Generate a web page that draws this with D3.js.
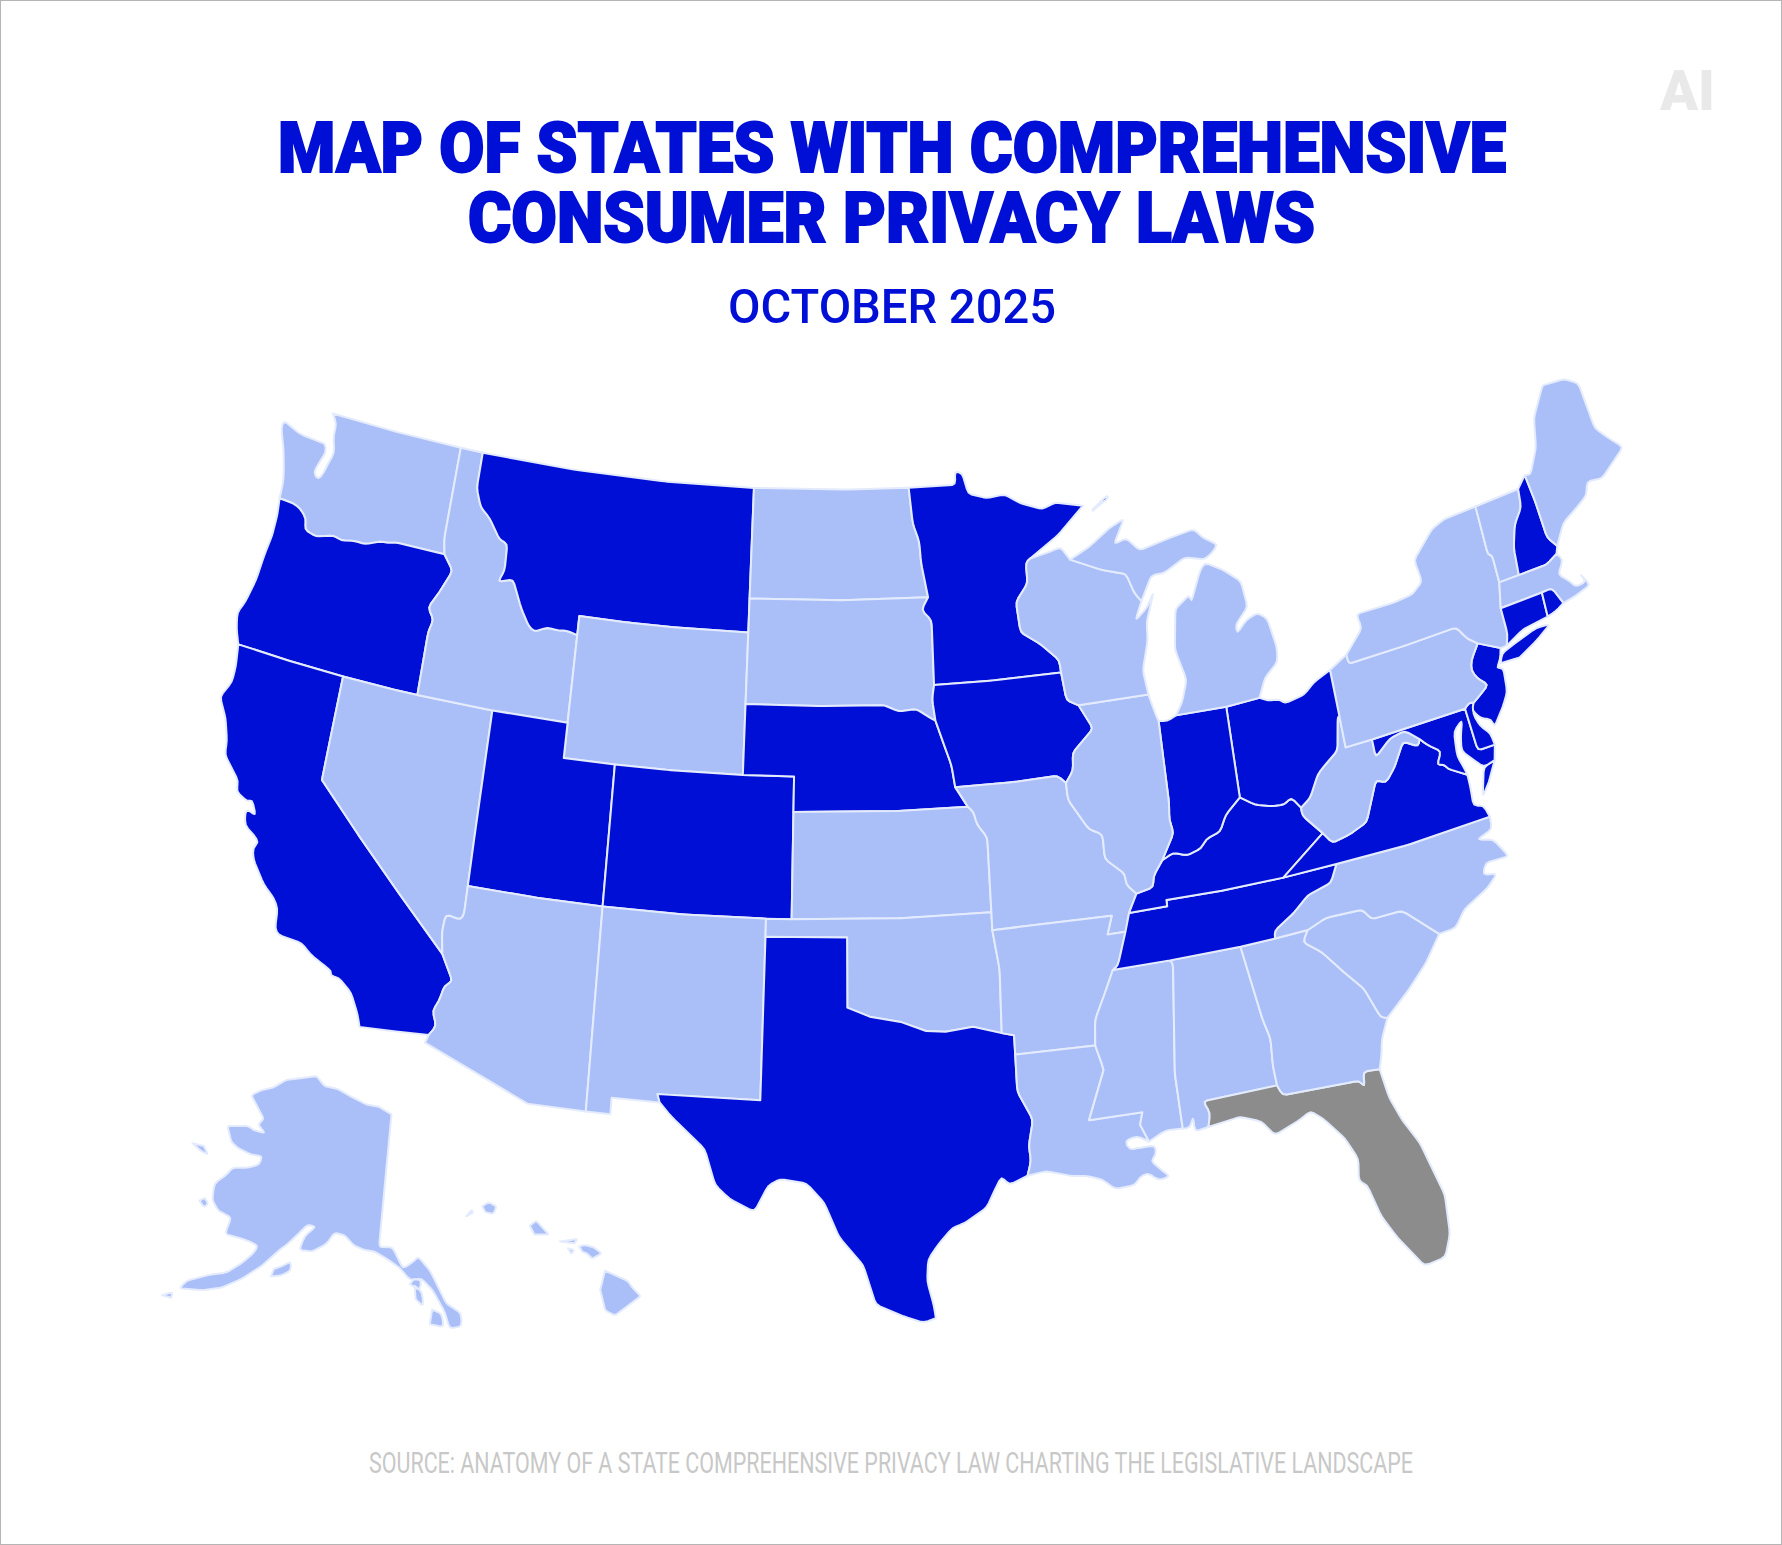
<!DOCTYPE html>
<html>
<head>
<meta charset="utf-8">
<style>
  html, body { margin: 0; padding: 0; background: #fff; }
  svg { display: block; }
</style>
<script src="https://cdn.jsdelivr.net/npm/d3@7"></script>
</head>
<body>
<script>
// border lines in lon/lat, shared between neighbouring states
const waCoast = [[-124.05,46.27],[-124.07,46.7],[-124.15,47.0],[-124.4,47.6],[-124.73,48.17],[-124.7,48.38],[-123.9,48.17],[-123.1,48.13],[-122.75,48.12],[-122.65,47.9],[-122.8,47.6],[-122.95,47.25],[-122.7,47.1],[-122.55,47.3],[-122.45,47.6],[-122.3,47.95],[-122.5,48.4],[-122.5,48.75],[-122.76,49]];
const waNorth = [[-122.76,49],[-120,49],[-117.03,49]];
const waId = [[-117.03,49],[-117.04,46.42],[-116.92,46]];
const waOr = [[-116.92,46],[-118.98,46],[-119.3,45.93],[-119.6,45.92],[-120.2,45.73],[-120.65,45.74],[-121.2,45.65],[-121.55,45.72],[-122.25,45.55],[-122.75,45.65],[-122.8,45.95],[-123.15,46.18],[-123.45,46.25],[-124.05,46.27]];
const orCoast = [[-124.05,46.27],[-123.97,45.8],[-123.97,45.2],[-124.08,44.6],[-124.15,43.9],[-124.35,43.2],[-124.55,42.84],[-124.42,42.4],[-124.21,42]];
const orCa = [[-124.21,42],[-122,42],[-120,42]];
const orNv = [[-120,42],[-118,42],[-117.03,42]];
const orId = [[-117.03,42],[-117.03,43.8],[-116.9,44.15],[-117.2,44.45],[-116.85,44.95],[-116.47,45.6],[-116.92,46]];
const caCoast = [[-124.21,42],[-124.1,41.4],[-124.1,40.95],[-124.4,40.44],[-124.0,39.9],[-123.75,39.3],[-123.7,38.9],[-123.0,38.3],[-122.98,38.0],[-122.52,37.82],[-122.35,37.9],[-122.1,37.5],[-122.42,37.6],[-122.5,37.5],[-122.4,37.15],[-122.0,36.95],[-121.8,36.8],[-121.95,36.6],[-121.85,36.3],[-121.3,35.7],[-120.85,35.4],[-120.65,35.15],[-120.6,34.6],[-120.45,34.45],[-119.6,34.4],[-119.2,34.15],[-118.8,34.0],[-118.4,33.85],[-118.4,33.72],[-118.1,33.72],[-117.6,33.4],[-117.25,32.85],[-117.12,32.53]];
const caMx = [[-117.12,32.53],[-116,32.62],[-114.72,32.72]];
const caAz = [[-114.72,32.72],[-114.5,33.0],[-114.7,33.4],[-114.52,33.7],[-114.4,34.15],[-114.14,34.3],[-114.63,35]];
const caNv = [[-114.63,35],[-116.5,36.42],[-118.3,37.75],[-120,39],[-120,40.5],[-120,42]];
const idNv = [[-117.03,42],[-114.04,42]];
const nvUt = [[-114.04,42],[-114.05,38.5],[-114.05,37]];
const nvAz = [[-114.05,37],[-114.05,36.2],[-114.15,36.03],[-114.7,36.1],[-114.75,35.6],[-114.63,35]];
const idUt = [[-114.04,42],[-111.05,42]];
const idWy = [[-111.05,42],[-111.05,44.47]];
const idMt = [[-111.05,44.47],[-111.5,44.55],[-111.85,44.52],[-112.3,44.55],[-112.8,44.38],[-113.05,44.5],[-113.45,44.95],[-113.95,45.7],[-114.55,45.56],[-114.35,45.9],[-114.4,46.65],[-114.75,46.72],[-115.3,47.25],[-115.75,47.5],[-116.05,48],[-116.05,49]];
const idNorth = [[-116.05,49],[-117.03,49]];
const mtNorth = [[-116.05,49],[-112,49],[-108,49],[-104.05,49]];
const mtNd = [[-104.05,49],[-104.05,47],[-104.05,45.94]];
const mtSd = [[-104.05,45.94],[-104.05,45]];
const mtWy = [[-104.05,45],[-107,45],[-109,45],[-111.05,45]];
const mtWyWest = [[-111.05,45],[-111.05,44.47]];
const wySd = [[-104.05,45],[-104.05,43]];
const wyNe = [[-104.05,43],[-104.05,41]];
const wyCo = [[-104.05,41],[-107,41],[-109.05,41]];
const wyUt = [[-109.05,41],[-111.05,41],[-111.05,42]];
const utCo = [[-109.05,41],[-109.05,37]];
const utAz = [[-114.05,37],[-111.5,37],[-109.05,37]];
const coNm = [[-109.05,37],[-106,37],[-103,37]];
const coOk = [[-103,37],[-102.05,37]];
const coKs = [[-102.05,37],[-102.05,40]];
const coNe = [[-102.05,40],[-102.05,41]];
const neCoNorth = [[-102.05,41],[-104.05,41]];
const azNm = [[-109.05,37],[-109.05,31.33]];
const azMx = [[-109.05,31.33],[-111.07,31.33],[-114.81,32.49],[-114.72,32.72]];
const nmOk = [[-103,37],[-103,36.5]];
const nmTx = [[-103,36.5],[-103.04,32],[-106.62,32],[-106.53,31.78]];
const nmMx = [[-106.53,31.78],[-108.2,31.78],[-108.2,31.33],[-109.05,31.33]];
const ndNorth = [[-104.05,49],[-100,49],[-97.23,49]];
const ndMn = [[-97.23,49],[-97.1,48],[-96.85,47.5],[-96.8,46.9],[-96.56,45.94]];
const ndSd = [[-96.56,45.94],[-100,45.94],[-104.05,45.94]];
const sdMn = [[-96.56,45.94],[-96.85,45.6],[-96.45,45.3],[-96.45,43.5]];
const sdIa = [[-96.45,43.5],[-96.55,43.1],[-96.45,42.49]];
const sdNe = [[-96.45,42.49],[-96.7,42.6],[-97.2,42.85],[-97.9,42.8],[-98.5,43],[-101,43],[-104.05,43]];
const neKs = [[-102.05,40],[-98,40],[-95.31,40]];
const neMo = [[-95.31,40],[-95.77,40.58]];
const neIa = [[-95.77,40.58],[-95.88,41.2],[-96.1,41.7],[-96.45,42.49]];
const ksOk = [[-102.05,37],[-98,37],[-94.62,37]];
const ksMo = [[-94.62,37],[-94.62,39.1],[-95,39.5],[-95.1,39.85],[-95.31,40]];
const okTx = [[-103,36.5],[-100,36.5],[-100,34.56],[-99.2,34.3],[-98.1,34.13],[-97.2,33.85],[-96.5,33.8],[-95.5,33.88],[-94.48,33.64]];
const okAr = [[-94.48,33.64],[-94.43,35.4],[-94.62,36.5]];
const okMo = [[-94.62,36.5],[-94.62,37]];
const txAr = [[-94.48,33.64],[-94.04,33.55],[-94.04,33.02]];
const txLa = [[-94.04,33.02],[-94.04,32],[-93.55,31.2],[-93.75,30.5],[-93.7,30.1],[-93.85,29.7]];
const txCoast = [[-93.85,29.7],[-94.5,29.5],[-94.75,29.75],[-95,29.4],[-95.3,28.95],[-96.1,28.55],[-96.5,28.45],[-97,28],[-97.35,27.6],[-97.4,27],[-97.2,26.3],[-97.15,25.96]];
const txMx = [[-97.15,25.96],[-97.55,25.85],[-98.2,26.05],[-99.1,26.4],[-99.5,27.5],[-100.3,28.3],[-100.8,29.25],[-101.4,29.77],[-102.3,29.88],[-102.7,29.7],[-103.15,28.98],[-104,29.3],[-104.5,29.65],[-104.9,30.6],[-106.1,31.42],[-106.53,31.78]];
const mnNorth = [[-97.23,49],[-95.15,49],[-95.15,49.38],[-94.82,49.3],[-94.6,48.72],[-93.8,48.55],[-93,48.6],[-92.3,48.3],[-91.4,48.07],[-90.8,48.2],[-89.6,48]];
const mnCoast = [[-89.6,48],[-90.8,47.3],[-92.1,46.75]];
const mnWi = [[-92.1,46.75],[-92.3,46.65],[-92.3,46.07],[-92.85,45.6],[-92.75,44.75],[-91.95,44.35],[-91.25,43.85],[-91.22,43.5]];
const mnIa = [[-91.22,43.5],[-94,43.5],[-96.45,43.5]];
const iaWi = [[-91.22,43.5],[-91.1,42.7],[-90.64,42.51]];
const iaIl = [[-90.64,42.51],[-90.15,41.8],[-91.05,41.2],[-91.1,40.7],[-91.42,40.38]];
const iaMo = [[-91.42,40.38],[-91.73,40.61],[-93.5,40.58],[-95.77,40.58]];
const moAr = [[-94.62,36.5],[-90.15,36.5],[-90.37,36],[-89.7,36]];
const moTn = [[-89.7,36],[-89.5,36.5]];
const moKy = [[-89.5,36.5],[-89.15,37]];
const moIl = [[-89.15,37],[-89.5,37.3],[-89.5,37.6],[-90.2,38.1],[-90.2,38.8],[-90.7,39],[-91.4,39.9],[-91.42,40.38]];
const arTn = [[-89.7,36],[-90.1,35.1],[-90.3,35]];
const arMs = [[-90.3,35],[-90.6,34.5],[-91.1,33.7],[-91.17,33]];
const arLa = [[-91.17,33],[-94.04,33.02]];
const laMs = [[-91.17,33],[-91,32.5],[-90.95,32.3],[-91.6,31],[-89.73,31],[-89.85,30.67],[-89.6,30.18]];
const laCoast = [[-89.6,30.18],[-90,30.38],[-90.42,30.3],[-90.3,30.05],[-89.9,30.05],[-89.4,30.05],[-89.4,29.8],[-89.6,29.65],[-89.2,29.3],[-89,29.15],[-89.4,29.1],[-89.75,29.35],[-90.05,29.25],[-90.2,29.08],[-90.9,29.05],[-91.3,29.35],[-91.8,29.5],[-92.3,29.55],[-93.2,29.77],[-93.85,29.7]];
const msTn = [[-90.3,35],[-88.2,35]];
const msAl = [[-88.2,35],[-88.1,34.9],[-88.47,31.9],[-88.4,30.37]];
const msCoast = [[-88.4,30.37],[-89,30.4],[-89.6,30.18]];
const alTn = [[-88.2,35],[-85.6,34.98]];
const alGa = [[-85.6,34.98],[-85.18,32.87],[-85,32.3],[-85.05,31.55],[-85,31]];
const alFl = [[-85,31],[-87.6,31],[-87.4,30.65],[-87.52,30.28]];
const alCoast = [[-87.52,30.28],[-88,30.23],[-88,30.65],[-88.15,30.35],[-88.4,30.37]];
const gaFl = [[-85,31],[-84.86,30.7],[-82.2,30.57],[-82.05,30.36],[-82.02,30.78],[-81.45,30.72]];
const flCoast = [[-81.45,30.72],[-81.3,29.9],[-81,29.2],[-80.55,28.45],[-80.05,26.9],[-80.12,25.8],[-80.4,25.2],[-81.1,25.13],[-81.8,26.1],[-82.2,26.8],[-82.5,27.75],[-82.75,27.9],[-82.65,28.5],[-83,29.15],[-83.6,29.8],[-84,30.1],[-84.35,29.95],[-85.3,29.68],[-85.7,30.13],[-86.4,30.38],[-87.52,30.28]];
const gaTn = [[-85.6,34.98],[-84.32,34.99]];
const gaNc = [[-84.32,34.99],[-83.11,35]];
const gaSc = [[-83.11,35],[-83.35,34.7],[-82.75,34.3],[-82,33.5],[-81.5,33],[-81.1,32.1],[-80.88,32.03]];
const gaCoast = [[-80.88,32.03],[-81.2,31.5],[-81.3,31.1],[-81.45,30.72]];
const scNc = [[-83.11,35],[-82.4,35.2],[-81.05,35.15],[-80.8,34.82],[-79.67,34.8],[-78.55,33.86]];
const scCoast = [[-78.55,33.86],[-79.2,33.2],[-80,32.6],[-80.88,32.03]];
const ncTn = [[-84.32,34.99],[-84.3,35.2],[-83.5,35.57],[-82.9,35.95],[-82,36.12],[-81.68,36.59]];
const ncVa = [[-81.68,36.59],[-79,36.54],[-75.87,36.55]];
const ncCoast = [[-75.87,36.55],[-75.9,36.2],[-76.5,36.05],[-75.95,35.9],[-75.55,35.3],[-76.4,35.35],[-76.6,35.05],[-76.1,34.95],[-76.55,34.65],[-77.5,34.3],[-77.95,33.87],[-78.55,33.86]];
const tnVa = [[-81.68,36.59],[-83.68,36.6]];
const tnKy = [[-83.68,36.6],[-86,36.63],[-88.07,36.68],[-88.07,36.5],[-89.5,36.5]];
const vaCoast = [[-75.87,36.55],[-76,36.92],[-76.35,37],[-76.3,37.55],[-76.3,37.9]];
const vaMd = [[-76.3,37.9],[-76.95,38.25],[-77.05,38.4],[-77.3,38.45],[-77.04,38.79],[-77.5,39.1],[-77.72,39.32]];
const vaWv = [[-77.72,39.32],[-77.83,39.13],[-78.35,39.4],[-78.87,38.77],[-79.3,38.42],[-79.65,38.58],[-80.3,37.5],[-81,37.3],[-81.68,37.2],[-81.97,37.54]];
const vaKy = [[-81.97,37.54],[-83.68,36.6]];
const wvKy = [[-81.97,37.54],[-82.6,38.17],[-82.6,38.4]];
const wvOh = [[-82.6,38.4],[-82.2,38.6],[-81.75,39.2],[-81.5,39.35],[-80.85,39.7],[-80.6,40.6],[-80.52,40.64]];
const wvPa = [[-80.52,40.64],[-80.52,39.72],[-79.48,39.72]];
const wvMd = [[-79.48,39.72],[-79.48,39.2],[-78.8,39.6],[-78.2,39.68],[-77.72,39.32]];
const paMd = [[-79.48,39.72],[-75.79,39.72]];
const mdDe = [[-75.79,39.72],[-75.71,38.46],[-75.05,38.45]];
const mdCoast = [[-75.05,38.45],[-75.2,38.03]];
const mdBay = [[-76.3,37.9],[-76.35,38.1],[-76.5,38.5],[-76.45,38.9],[-76.4,39.2],[-76,39.45],[-76.2,39],[-76.3,38.6],[-75.9,38.2],[-75.65,37.95],[-75.2,38.03]];
const paDe = [[-75.79,39.72],[-75.6,39.84],[-75.42,39.8]];
const deCoast = [[-75.42,39.8],[-75.55,39.5],[-75.4,39.1],[-75.1,38.8],[-75.05,38.45]];
const paNj = [[-75.42,39.8],[-75.1,39.95],[-74.72,40.15],[-75.05,40.42],[-75.2,40.7],[-75.1,40.97],[-74.7,41.36]];
const njNy = [[-74.7,41.36],[-73.9,41]];
const njCoast = [[-73.9,41],[-74.03,40.7],[-74.25,40.5],[-74,40.45],[-74.1,39.75],[-74.4,39.4],[-74.9,38.93],[-74.95,39.18],[-75.3,39.3],[-75.55,39.6],[-75.42,39.8]];
const paNy = [[-74.7,41.36],[-75.05,41.6],[-75.35,42],[-77.5,42],[-79.76,42],[-79.76,42.27]];
const paErie = [[-79.76,42.27],[-80.52,41.98]];
const paOh = [[-80.52,41.98],[-80.52,40.64]];
const ohErie = [[-80.52,41.98],[-81.25,41.76],[-81.7,41.5],[-82.5,41.4],[-82.7,41.55],[-83.15,41.6],[-83.45,41.73]];
const ohMi = [[-83.45,41.73],[-84.8,41.7]];
const ohIn = [[-84.8,41.7],[-84.82,39.1]];
const ohKy = [[-84.82,39.1],[-84.3,38.8],[-83.7,38.65],[-83.2,38.6],[-82.9,38.75],[-82.6,38.4]];
const miIn = [[-84.8,41.7],[-86.82,41.76]];
const inLake = [[-86.82,41.76],[-87.2,41.65],[-87.53,41.7]];
const inIl = [[-87.53,41.7],[-87.53,39.35],[-87.6,38.9],[-87.5,38.5],[-88.05,37.8]];
const inKy = [[-88.05,37.8],[-87.6,37.95],[-87.1,37.8],[-86.55,37.92],[-86.3,38.15],[-85.75,38.27],[-85.45,38.7],[-84.82,39.1]];
const ilKy = [[-89.15,37],[-88.5,37.1],[-88.45,37.4],[-88.05,37.8]];
const ilWi = [[-90.64,42.51],[-87.8,42.49]];
const ilLake = [[-87.8,42.49],[-87.6,41.85],[-87.53,41.7]];
const wiSup = [[-92.1,46.75],[-91.2,46.87],[-90.75,46.95],[-90.4,46.57]];
const wiMi = [[-90.4,46.57],[-89.1,46.15],[-88.1,45.92],[-87.85,45.35],[-87.6,45.1]];
const wiLake = [[-87.6,45.1],[-87.95,44.6],[-87.4,44.9],[-87.05,45.28],[-87.5,44.5],[-87.55,44],[-87.9,43.2],[-87.8,42.49]];
const miLower = [[-86.82,41.76],[-86.5,42.1],[-86.2,42.7],[-86.5,43.6],[-86.25,44.7],[-85.6,45],[-85.55,44.8],[-85,45.6],[-84.75,45.78],[-84.1,45.5],[-83.4,45.05],[-83.3,44.3],[-83.9,43.9],[-83.9,43.65],[-83.45,43.95],[-82.95,44.07],[-82.6,43.85],[-82.42,43],[-82.5,42.6],[-83.1,42.25],[-83.45,41.73]];
const miUpper = [[-87.6,45.1],[-87.05,45.75],[-86.5,45.75],[-85.55,46.05],[-84.75,45.88],[-84.4,46],[-84.1,46.2],[-84.65,46.47],[-85,46.77],[-86.1,46.67],[-87.4,46.5],[-87.9,46.9],[-88.45,46.8],[-87.9,47.45],[-88.6,47.25],[-89.5,46.85],[-90.4,46.57]];
const nyShort = [[-73.9,41],[-73.65,41]];
const nyCt = [[-73.65,41],[-73.5,41.3],[-73.49,42.05]];
const nyMa = [[-73.49,42.05],[-73.27,42.75]];
const nyVt = [[-73.27,42.75],[-73.25,43.55],[-73.4,43.6],[-73.35,45.01]];
const nyNorth = [[-73.35,45.01],[-74.7,45],[-75.3,44.85],[-76.3,44.2],[-76.2,43.55],[-76.7,43.3],[-77.5,43.25],[-79.05,43.27],[-78.95,42.85],[-79.76,42.27]];
const vtNorth = [[-73.35,45.01],[-71.5,45.01]];
const vtNh = [[-71.5,45.01],[-71.6,44.5],[-72.05,44.1],[-72.35,43.5],[-72.46,42.73]];
const vtMa = [[-72.46,42.73],[-73.27,42.75]];
const nhNorth = [[-71.08,45.3],[-71.5,45.01]];
const nhMe = [[-71.08,45.3],[-71,44.5],[-70.98,43.4],[-70.7,43.07]];
const nhCoast = [[-70.7,43.07],[-70.82,42.87]];
const nhMa = [[-70.82,42.87],[-71.3,42.7],[-72.46,42.73]];
const meCoast = [[-70.7,43.07],[-70.2,43.6],[-69.5,43.85],[-69,44.05],[-68.8,44.4],[-68.2,44.3],[-67,44.85],[-67.45,45.3],[-67.8,45.7],[-67.8,47.07],[-68.3,47.36],[-69.05,47.43],[-69.22,47.46],[-70,46.7],[-70.3,45.9],[-70.85,45.25],[-71.08,45.3]];
const maCoast = [[-70.82,42.87],[-70.65,42.65],[-71,42.3],[-70.65,42],[-70.5,41.78],[-70.05,41.8],[-70.2,42.08],[-69.95,41.67],[-70.6,41.55],[-71.13,41.5]];
const maCt = [[-73.49,42.05],[-71.8,42.02]];
const maRi = [[-71.8,42.02],[-71.38,42.02],[-71.13,41.5]];
const ctRi = [[-71.8,42.02],[-71.85,41.32]];
const ctCoast = [[-71.85,41.32],[-72.9,41.25],[-73.65,41]];
const riCoast = [[-71.13,41.5],[-71.5,41.37],[-71.85,41.32]];

// islands and separate pieces
const longIsland = [[-74.05,40.6],[-73.9,40.85],[-73.2,41],[-72.4,41.15],[-71.85,41.1],[-72.5,40.82],[-73.3,40.55]];
const isleRoyale = [[-89.2,47.85],[-88.5,48.17],[-88.45,48.1],[-89.2,47.82]];
const vaShore = [[-75.2,38.03],[-75.65,37.95],[-75.95,37.15],[-75.6,37.5]];
const akMain = [[-141,69.65],[-141,60.3],[-139.1,60.35],[-137.5,58.95],[-136,59.5],[-135.5,59.8],[-133.8,58.8],[-131.8,56.6],[-130,55.9],[-130,55],[-131.5,54.9],[-132,56],[-133.5,57.5],[-135,58.3],[-136.5,58.2],[-138,59],[-139.8,59.55],[-141.5,59.95],[-143,60],[-144.5,60.2],[-146,60.8],[-147.5,60.85],[-148.3,60],[-150,59.3],[-151.8,59.2],[-151.5,60.2],[-150.3,61],[-151.5,61],[-152.5,60.2],[-153.5,59.4],[-154.3,58.9],[-156,57.5],[-158,56.2],[-160,55.2],[-162,54.6],[-164.7,54.1],[-164.2,54.8],[-162,55.7],[-160,56.3],[-158.5,57.3],[-157.5,58.2],[-157.3,58.7],[-158.5,58.8],[-160,58.8],[-162,58.7],[-162,59.9],[-164,60],[-165.4,60.5],[-166.1,61.6],[-165,62.5],[-164.6,63.1],[-162.5,63.5],[-161,64],[-161,64.6],[-162.8,64.45],[-165,64.5],[-166.4,64.7],[-168.1,65.6],[-165,66.2],[-163.8,66.1],[-162,66.2],[-163.6,66.6],[-163,67.1],[-164.5,67.6],[-166.7,68.3],[-165.5,68.9],[-163.5,69.5],[-162,70.3],[-159.5,70.8],[-156.6,71.35],[-154.5,70.8],[-152,70.85],[-149,70.5],[-146,70.15],[-143.5,70.1]];
const akKodiak = [[-154.5,56.95],[-153.3,57.2],[-152.2,57.7],[-152.5,58.3],[-153.3,57.9],[-154.4,57.5]];
const akStLawrence = [[-171.7,63.4],[-170,63.2],[-168.8,63.2],[-170,63.6]];
const akNunivak = [[-167,60.1],[-166,59.8],[-165.7,60.2],[-166.5,60.4]];
const akUnalaska = [[-166.2,53.2],[-165.2,53.7],[-165.1,53.3]];
const akPrinceWales = [[-133.9,55.2],[-132.2,55],[-132.4,55.9],[-133.6,56.2]];
const akBaranof = [[-135.7,56.9],[-134.7,56.4],[-134.9,57.4],[-135.9,57.8]];
const akChichagof = [[-136.5,57.9],[-135.2,57.5],[-135,58.2],[-136,58.25]];
const hiBig = [[-155.9,20.25],[-155.2,19.95],[-155.05,19.75],[-154.8,19.5],[-155.6,18.95],[-155.9,19.1],[-156.05,19.7]];
const hiMaui = [[-156.7,20.95],[-156.55,21],[-156.25,20.93],[-156,20.75],[-156.3,20.6],[-156.45,20.75],[-156.6,20.8]];
const hiMolokai = [[-157.3,21.1],[-156.75,21.17],[-156.85,21.05]];
const hiLanai = [[-157.05,20.9],[-156.85,20.85],[-156.95,20.75]];
const hiOahu = [[-158.25,21.55],[-158.05,21.7],[-157.8,21.45],[-157.65,21.3],[-158.1,21.3]];
const hiKauai = [[-159.75,22.1],[-159.55,22.22],[-159.3,22.1],[-159.4,21.88],[-159.65,21.93]];
const hiNiihau = [[-160.25,21.8],[-160.07,22],[-160.05,21.9]];

// these keep their hard corners, the rest gets rounded like the reference
const sharpBorders = [okTx, nmTx, nmMx, moAr, laMs, caNv, txAr, tnKy, wvPa, wyUt, azMx];

const stateNames = ['Washington','Oregon','California','Nevada','Idaho','Montana','Wyoming','Utah','Colorado','Arizona','New Mexico','North Dakota','South Dakota','Nebraska','Kansas','Oklahoma','Texas','Minnesota','Iowa','Missouri','Arkansas','Louisiana','Mississippi','Alabama','Florida','Georgia','South Carolina','North Carolina','Tennessee','Kentucky','Virginia','West Virginia','Maryland','Delaware','New Jersey','Pennsylvania','Ohio','Indiana','Illinois','Wisconsin','Michigan','New York','Vermont','New Hampshire','Maine','Massachusetts','Connecticut','Rhode Island','Alaska','Hawaii'];
const stateRings = [
  [[waCoast,waNorth,idNorth,waId,waOr]],
  [[waOr,orCoast,orCa,orNv,orId]],
  [[orCa,caCoast,caMx,caAz,caNv]],
  [[orNv,idNv,nvUt,nvAz,caNv]],
  [[waId,orId,idNv,idUt,idWy,idMt,idNorth]],
  [[idMt,mtNorth,mtNd,mtSd,mtWy,mtWyWest]],
  [[mtWy,mtWyWest,idWy,wyUt,wyCo,wyNe,wySd]],
  [[idUt,wyUt,utCo,utAz,nvUt]],
  [[wyCo,utCo,coNm,coOk,coKs,coNe,neCoNorth]],
  [[nvAz,caAz,azMx,azNm,utAz]],
  [[coNm,nmOk,nmTx,nmMx,azNm]],
  [[mtNd,ndNorth,ndMn,ndSd]],
  [[mtSd,wySd,sdNe,sdIa,sdMn,ndSd]],
  [[sdNe,wyNe,neCoNorth,coNe,neKs,neMo,neIa]],
  [[coKs,neKs,ksMo,ksOk]],
  [[coOk,ksOk,okMo,okAr,okTx,nmOk]],
  [[okTx,txAr,txLa,txCoast,txMx,nmTx]],
  [[mnNorth,mnCoast,mnWi,mnIa,sdMn,ndMn],[isleRoyale]],
  [[mnIa,sdIa,neIa,iaMo,iaIl,iaWi]],
  [[neMo,iaMo,moIl,moKy,moTn,moAr,okMo,ksMo]],
  [[okAr,moAr,arTn,arMs,arLa,txAr]],
  [[txLa,laCoast,laMs,arLa]],
  [[arMs,laMs,msCoast,msAl,msTn]],
  [[msAl,alCoast,alFl,alGa,alTn]],
  [[alFl,flCoast,gaFl]],
  [[alGa,gaFl,gaCoast,gaSc,gaNc,gaTn]],
  [[gaSc,scCoast,scNc]],
  [[gaNc,scNc,ncCoast,ncVa,ncTn]],
  [[moTn,tnKy,tnVa,ncTn,gaTn,alTn,msTn,arTn]],
  [[inKy,ohKy,wvKy,vaKy,tnKy,moKy,ilKy]],
  [[tnVa,vaKy,vaWv,vaMd,vaCoast,ncVa],[vaShore]],
  [[vaWv,wvKy,wvOh,wvPa,wvMd]],
  [[wvMd,vaMd,mdBay,mdCoast,mdDe,paMd]],
  [[mdDe,deCoast,paDe]],
  [[paNj,njNy,njCoast]],
  [[wvPa,paMd,paDe,paNj,paNy,paErie,paOh]],
  [[wvOh,paOh,ohErie,ohMi,ohIn,ohKy]],
  [[ohIn,inKy,inIl,inLake,miIn]],
  [[inIl,ilKy,moIl,iaIl,ilWi,ilLake]],
  [[ilWi,wiLake,wiMi,wiSup,mnWi,iaWi]],
  [[ohMi,miIn,miLower],[wiMi,miUpper]],
  [[njNy,nyShort,nyCt,nyMa,nyVt,nyNorth,paNy]],
  [[nyVt,vtNorth,vtNh,vtMa]],
  [[vtNh,nhMa,nhCoast,nhMe,nhNorth]],
  [[nhMe,meCoast]],
  [[nyMa,vtMa,nhMa,maCoast,maRi,maCt]],
  [[nyCt,maCt,ctRi,ctCoast],[longIsland]],
  [[maRi,riCoast,ctRi]],
  [[akMain],[akKodiak],[akStLawrence],[akNunivak],[akUnalaska],[akPrinceWales],[akBaranof],[akChichagof]],
  [[hiBig],[hiMaui],[hiMolokai],[hiLanai],[hiOahu],[hiKauai],[hiNiihau]]
];

const lawStates = ['Oregon','California','Montana','Utah','Colorado','Nebraska','Texas','Minnesota','Iowa','Indiana','Ohio','Kentucky','Tennessee','Virginia','Maryland','Delaware','New Jersey','Connecticut','Rhode Island','New Hampshire'];
const partialStates = ['Florida'];
const titleLines = ['MAP OF STATES WITH COMPREHENSIVE', 'CONSUMER PRIVACY LAWS'];
const subtitle = 'OCTOBER 2025';
const source = 'SOURCE: ANATOMY OF A STATE COMPREHENSIVE PRIVACY LAW CHARTING THE LEGISLATIVE LANDSCAPE';

const w = 1782, h = 1545;
const BLUE = '#000fd6', LIGHT = '#aabff8', GREY = '#8c8c8c', EDGE = '#e4ebfd';

// cut every inner vertex of a border line into a small curve
function rounded(arc, r) {
  if (arc.length < 3 || sharpBorders.includes(arc)) return arc;
  const out = [arc[0]];
  for (let i = 1; i < arc.length - 1; i++) {
    const a = arc[i - 1], b = arc[i], c = arc[i + 1];
    const t1 = Math.min(r, Math.hypot(a[0] - b[0], a[1] - b[1]) / 2.2) / Math.hypot(a[0] - b[0], a[1] - b[1]);
    const t2 = Math.min(r, Math.hypot(c[0] - b[0], c[1] - b[1]) / 2.2) / Math.hypot(c[0] - b[0], c[1] - b[1]);
    const p = [b[0] + (a[0] - b[0]) * t1, b[1] + (a[1] - b[1]) * t1];
    const q = [b[0] + (c[0] - b[0]) * t2, b[1] + (c[1] - b[1]) * t2];
    out.push(p, [(p[0] + q[0]) / 4 + b[0] / 2, (p[1] + q[1]) / 4 + b[1] / 2], q);
  }
  out.push(arc[arc.length - 1]);
  return out;
}

// glue border lines into one closed ring, flipping them where needed
function chain(arcs, r) {
  const same = (a, b) => a[0] === b[0] && a[1] === b[1];
  const lines = arcs.map(a => rounded(a, r));
  let ring = lines[0].slice();
  if (lines.length > 1) {
    const n = lines[1];
    const end = ring[ring.length - 1];
    if (!same(end, n[0]) && !same(end, n[n.length - 1])) ring.reverse();
  }
  lines.slice(1).forEach(a => {
    const end = ring[ring.length - 1];
    if (same(end, a[0])) ring = ring.concat(a.slice(1));
    else if (same(end, a[a.length - 1])) ring = ring.concat(a.slice().reverse().slice(1));
    else { console.error('gap', end, a[0]); ring = ring.concat(a); }
  });
  if (!same(ring[0], ring[ring.length - 1])) ring.push(ring[0]);
  return ring;
}

// d3.geo wants clockwise rings, otherwise the polygon fills the whole globe
function polygon(ring) {
  const g = { type: 'Polygon', coordinates: [ring] };
  if (d3.geoArea(g) > 2 * Math.PI) g.coordinates = [ring.slice().reverse()];
  return g.coordinates;
}

const features = stateNames.map((name, i) => ({
  type: 'Feature',
  properties: { name },
  geometry: {
    type: 'MultiPolygon',
    coordinates: stateRings[i].map(r => polygon(chain(r, name === 'Alaska' ? 0.35 : name === 'Hawaii' ? 0.06 : 0.14)))
  }
}));

// put a lon/lat spot on a given pixel
function pin(projection, lonLat, xy) {
  projection.translate([0, 0]);
  const p = projection(lonLat);
  return projection.translate([xy[0] - p[0], xy[1] - p[1]]);
}

const lower48 = pin(d3.geoConicConformal().parallels([45, 55]).rotate([99.5, 0]).scale(1940), [-99.5, 37], [859, 918]);
const alaska = pin(d3.geoConicEqualArea().parallels([41, 62]).rotate([134, 0]).scale(832), [-141, 60.3], [379, 1247]);
const hawaii = pin(d3.geoConicEqualArea().parallels([15, 25]).rotate([157, 0]).scale(1970), [-155.5, 19.6], [618, 1293]);

// the reference is not a clean conic: taller, narrower toward the south, tipped a little
const yStretch = 1.04, yPivot = 918, xPivot = 932;
const warp = d3.geoTransform({
  point(x, y) {
    const f = (1.02 - 0.000111 * (y - 409)) * (x < xPivot ? 1.016 : 1);
    const north = Math.max(0, 682 - y) * 0.03;
    const south = Math.max(0, y - 1200) * 0.05;
    this.stream.point(
      xPivot + (x - xPivot) * f,
      yPivot + (y - yPivot) * yStretch - (x - xPivot) * 0.018 - north - south
    );
  }
});
const lower48Warped = { stream: s => lower48.stream(warp.stream(s)) };

const paths = {
  Alaska: d3.geoPath(alaska),
  Hawaii: d3.geoPath(hawaii)
};
const mainPath = d3.geoPath(lower48Warped);

const svg = d3.select('body').append('svg')
  .attr('width', w)
  .attr('height', h)
  .attr('viewBox', `0 0 ${w} ${h}`);

svg.append('rect')
  .attr('x', 0.5).attr('y', 0.5)
  .attr('width', w - 1).attr('height', h - 1)
  .attr('fill', '#fff')
  .attr('stroke', '#b5b5b5');

svg.selectAll('path.state')
  .data(features)
  .enter()
  .append('path')
  .attr('class', 'state')
  .attr('d', d => (paths[d.properties.name] || mainPath)(d))
  .attr('fill', d => lawStates.includes(d.properties.name) ? BLUE : partialStates.includes(d.properties.name) ? GREY : LIGHT)
  .attr('stroke', EDGE)
  .attr('stroke-width', 2)
  .attr('stroke-linejoin', 'round');

function label(parent, text, x, y, size, weight, color, length) {
  return parent.append(parent === svg ? 'text' : 'tspan')
    .text(text)
    .attr('x', x)
    .attr('y', y)
    .attr('font-family', 'Roboto, sans-serif')
    .attr('font-size', size)
    .attr('font-weight', weight)
    .attr('fill', color)
    .attr('textLength', length)
    .attr('lengthAdjust', 'spacingAndGlyphs');
}

const title = svg.append('text').attr('stroke', BLUE).attr('stroke-width', 2);
label(title, titleLines[0], 278, 172, 70, 900, BLUE, 1228);
label(title, titleLines[1], 468, 242, 70, 900, BLUE, 847);
label(svg, subtitle, 728, 323, 49, 500, BLUE, 328);
label(svg, source, 369, 1473, 29, 400, '#c8c8c8', 1044);
label(svg, 'AI', 1660, 110, 56, 900, '#e9e9e9', 55);
</script>
</body>
</html>
